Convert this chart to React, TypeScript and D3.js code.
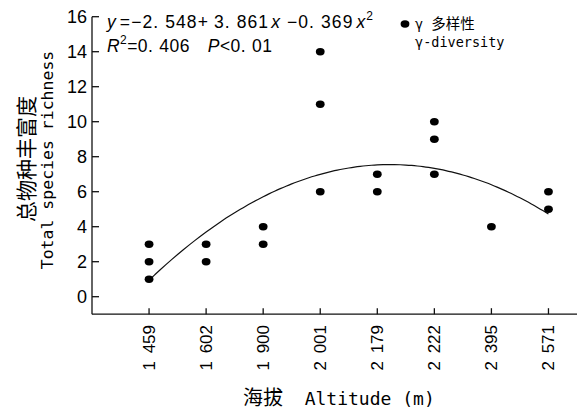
import React from 'react';
import * as d3 from 'd3';

// altitude sites (x categories) and species richness observed at each
const altitudes = ['1 459', '1 602', '1 900', '2 001', '2 179', '2 222', '2 395', '2 571'];
const richness = [[1, 2, 3], [2, 3], [3, 4], [6, 11, 14], [6, 7], [7, 9, 10], [4], [5, 6]];
// quadratic fit printed on the chart: y = a + b x + c x^2
const fitCoef = [-2.548, 3.861, -0.369];
const yTicks = [0, 2, 4, 6, 8, 10, 12, 14, 16];

const W = 587;
const H = 411;
const sans = '"Liberation Sans", Arial, sans-serif';
const mono = '"DejaVu Sans Mono", "Noto Sans CJK SC", monospace';
const cjk = '"Noto Sans CJK SC", sans-serif';

const x = d3.scaleLinear().domain([0, 8.5]).range([92, 577]);
const y = d3.scaleLinear().domain([-1, 16]).range([314.2, 16.7]);

const fit = (v: number) => fitCoef[0] + fitCoef[1] * v + fitCoef[2] * v * v;

// decimal point in the source is set wide; add a small gap after it
const Num: React.FC<{ s: string; gap?: number }> = ({ s, gap = 6 }) => {
  const parts = s.split('.');
  if (parts.length < 2) return <>{s}</>;
  return (
    <>
      <tspan>{parts[0]}.</tspan>
      <tspan dx={gap}>{parts[1]}</tspan>
    </>
  );
};

const App: React.FC = () => {
  const line = d3
    .line<number>()
    .x(d => x(d))
    .y(d => y(fit(d)))
    .curve(d3.curveBasis);
  const xs = d3.range(1, 8.0001, 0.1);

  return (
    <svg width={W} height={H} style={{ position: 'absolute', left: 0, top: 0, background: '#fff' }}>
      {/* axes */}
      <g stroke="#111" strokeWidth={1.3} fill="none">
        <line x1={x(0)} x2={x(0)} y1={y(-1)} y2={y(16)} />
        <line x1={x(0)} x2={x(8.5)} y1={y(-1)} y2={y(-1)} />
        {yTicks.map(t => (
          <line key={t} x1={x(0)} x2={x(0) + 7} y1={y(t)} y2={y(t)} />
        ))}
        {altitudes.map((a, i) => (
          <line key={a} x1={x(i + 1)} x2={x(i + 1)} y1={y(-1)} y2={y(-1) - 6} />
        ))}
      </g>

      {yTicks.map(t => (
        <text key={t} x={87} y={y(t)} dy="0.36em" textAnchor="end" fontFamily={sans} fontSize={18} fill="#000">
          {t}
        </text>
      ))}

      {altitudes.map((a, i) => (
        <text
          key={a}
          transform={`translate(${x(i + 1) + 6},325) rotate(-90)`}
          textAnchor="end"
          fontFamily={sans}
          fontSize={17}
          wordSpacing={3}
          fill="#000"
        >
          {a}
        </text>
      ))}

      {/* fitted curve */}
      <path d={line(xs) || ''} fill="none" stroke="#111" strokeWidth={1.2} />

      {/* observations */}
      {richness.map((vals, i) =>
        vals.map(v => <ellipse key={`${i}-${v}`} cx={x(i + 1)} cy={y(v)} rx={4.4} ry={3.7} fill="#000" />)
      )}

      {/* equation */}
      <text x={107} y={28} fontFamily={sans} fontSize={17.5} fill="#000" textLength={266} lengthAdjust="spacing">
        <tspan fontStyle="italic">y</tspan>
        <tspan dx={3}>=−</tspan>
        <Num s="2.548" />
        <tspan>+</tspan>
        <tspan dx={5}>
          <Num s="3.861" />
        </tspan>
        <tspan fontStyle="italic" dx={2}>x</tspan>
        <tspan dx={6}>−</tspan>
        <Num s="0.369" />
        <tspan fontStyle="italic" dx={3}>x</tspan>
        <tspan dy={-8} fontSize={12}>2</tspan>
      </text>
      <text x={107} y={51.5} fontFamily={sans} fontSize={17.5} fill="#000" textLength={165} lengthAdjust="spacing">
        <tspan fontStyle="italic">R</tspan>
        <tspan dy={-8} fontSize={12}>2</tspan>
        <tspan dy={8}>=</tspan>
        <Num s="0.406" />
        <tspan fontStyle="italic" dx={18}>P</tspan>
        <tspan>&lt;</tspan>
        <Num s="0.01" />
      </text>

      {/* legend */}
      <ellipse cx={405} cy={24} rx={4.4} ry={3.7} fill="#000" />
      <text x={415} y={29} fontFamily={mono} fontSize={13.5} fill="#000">
        γ <tspan fontFamily={cjk} fontSize={14.5}>多样性</tspan>
      </text>
      <text x={415} y={47} fontFamily={mono} fontSize={13.5} fill="#000">
        γ-diversity
      </text>

      {/* axis titles */}
      <text transform="translate(34,159) rotate(-90)" textAnchor="middle" fontFamily={cjk} fontSize={21} fill="#000">
        总物种丰富度
      </text>
      <text transform="translate(53,160) rotate(-90)" textAnchor="middle" fontFamily={mono} fontSize={16.5} fill="#000">
        Total species richness
      </text>
      <text x={243} y={405} fontFamily={mono} fontSize={18} fill="#000">
        <tspan fontFamily={cjk} fontSize={20}>海拔</tspan>
        <tspan xmlSpace="preserve">{'  Altitude (m)'}</tspan>
      </text>
    </svg>
  );
};

export default App;
